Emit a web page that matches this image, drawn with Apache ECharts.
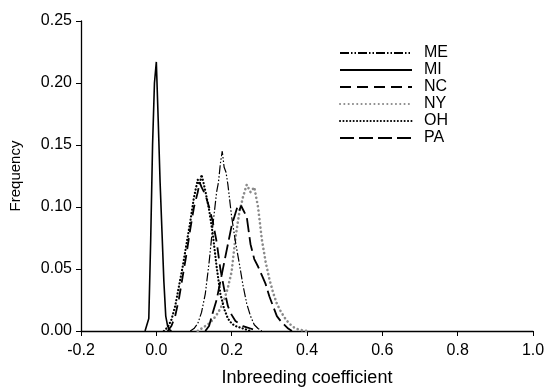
<!DOCTYPE html>
<html>
<head>
<meta charset="utf-8">
<script src="https://cdn.jsdelivr.net/npm/echarts@6/dist/echarts.min.js"></script>
<style>html,body{margin:0;padding:0;background:#fff}#c{width:545px;height:388px}</style>
</head>
<body>
<div id="c"></div>
<script>
var xTicks = [-0.2, 0.0, 0.2, 0.4, 0.6, 0.8, 1.0];
var yTicks = [0.00, 0.05, 0.10, 0.15, 0.20, 0.25];
var seriesNames = ['ME', 'MI', 'NC', 'NY', 'OH', 'PA'];

var meX = [0.09,0.10,0.11,0.12,0.13,0.14,0.15,0.16,0.165,0.17,0.175,0.18,0.185,0.19,0.20,0.21,0.22,0.23,0.24,0.25,0.26,0.27,0.28];
var meY = [0,0.002,0.006,0.015,0.03,0.055,0.085,0.112,0.12,0.135,0.145,0.132,0.128,0.118,0.092,0.072,0.055,0.037,0.022,0.012,0.005,0.002,0];

var miX = [-0.03,-0.025,-0.02,-0.015,-0.01,-0.005,0,0.005,0.01,0.015,0.02,0.025,0.03,0.035,0.04];
var miY = [0,0.001,0.01,0.073,0.15,0.2,0.217,0.17,0.12,0.08,0.04,0.012,0.004,0.001,0];

var ncX = [0.03,0.04,0.05,0.06,0.07,0.08,0.09,0.10,0.11,0.115,0.12,0.13,0.14,0.15,0.16,0.17,0.18,0.19,0.20,0.21,0.22,0.23,0.24,0.25,0.26,0.27];
var ncY = [0,0.004,0.012,0.026,0.044,0.062,0.082,0.1,0.112,0.12,0.116,0.11,0.1,0.088,0.072,0.05,0.034,0.02,0.013,0.008,0.006,0.004,0.003,0.002,0.001,0];

var nyX = [0.11,0.12,0.13,0.14,0.15,0.16,0.17,0.18,0.19,0.20,0.21,0.22,0.23,0.24,0.25,0.26,0.27,0.28,0.29,0.30,0.31,0.32,0.33,0.34,0.35,0.36,0.37,0.38,0.39,0.40];
var nyY = [0,0.002,0.004,0.006,0.009,0.013,0.018,0.025,0.035,0.048,0.075,0.095,0.108,0.118,0.112,0.116,0.1,0.074,0.056,0.042,0.031,0.022,0.016,0.011,0.007,0.004,0.002,0.001,0.0005,0];

var ohX = [0.02,0.03,0.04,0.05,0.06,0.07,0.08,0.09,0.10,0.105,0.11,0.115,0.12,0.125,0.13,0.14,0.15,0.16,0.17,0.18,0.19,0.20,0.21,0.22,0.23,0.24,0.25];
var ohY = [0,0.003,0.009,0.02,0.036,0.052,0.07,0.088,0.108,0.115,0.122,0.118,0.126,0.12,0.113,0.098,0.078,0.052,0.03,0.018,0.01,0.006,0.004,0.003,0.002,0.001,0];

var paX = [0.13,0.14,0.15,0.16,0.17,0.18,0.19,0.20,0.21,0.215,0.22,0.225,0.23,0.24,0.25,0.26,0.27,0.28,0.29,0.30,0.31,0.32,0.33,0.34,0.35,0.36];
var paY = [0,0.004,0.015,0.025,0.04,0.055,0.07,0.085,0.095,0.1,0.097,0.101,0.098,0.092,0.07,0.058,0.052,0.045,0.038,0.028,0.02,0.012,0.008,0.005,0.002,0];

function pairs(xs, ys){ return xs.map(function(x,i){ return [x, ys[i]]; }); }

var styles = {
  ME: {color:'#000', width:1.2, type:[9,2,1.5,2,1.5,2]},
  MI: {color:'#000', width:1.6, type:'solid'},
  NC: {color:'#000', width:1.8, type:[11,6]},
  NY: {color:'#8a8a8a', width:2.6, type:[0.1,4.2], cap:'round'},
  OH: {color:'#000', width:2.2, type:[0.1,3.3], cap:'round'},
  PA: {color:'#000', width:1.8, type:[14,5]}
};
var dataMap = {ME:pairs(meX,meY), MI:pairs(miX,miY), NC:pairs(ncX,ncY), NY:pairs(nyX,nyY), OH:pairs(ohX,ohY), PA:pairs(paX,paY)};

var font = 'Liberation Sans, Arial, sans-serif';
var chart = echarts.init(document.getElementById('c'), null, {renderer:'canvas'});
chart.setOption({
  animation:false,
  backgroundColor:'#fff',
  grid:{left:81, right:12, top:21, bottom:57, containLabel:false, outerBoundsMode:'none'},
  legend:{
    orient:'vertical', left:339, top:45, padding:0, itemWidth:72, itemHeight:14, itemGap:1,
    itemStyle:{opacity:0},
    textStyle:{color:'#000', fontSize:16, fontFamily:font, lineHeight:14, padding:[0,0,0,7]},
    data: seriesNames
  },
  xAxis:{
    type:'value', min:-0.2, max:1.0, interval:0.2,
    name:'Inbreeding coefficient', nameLocation:'middle', nameGap:38,
    nameTextStyle:{color:'#000', fontSize:18, fontFamily:font},
    axisLine:{onZero:false, lineStyle:{color:'#000', width:1.3}},
    axisTick:{show:true, inside:false, length:5, lineStyle:{color:'#000'}},
    axisLabel:{color:'#000', fontSize:16, fontFamily:font, margin:12, formatter:function(v){return (+v).toFixed(1);}},
    splitLine:{show:false}
  },
  yAxis:{
    type:'value', min:0, max:0.25, interval:0.05,
    name:'Frequency', nameLocation:'middle', nameGap:58,
    nameTextStyle:{color:'#000', fontSize:15, fontFamily:font},
    axisLine:{show:true, onZero:false, lineStyle:{color:'#000', width:1.3}},
    axisTick:{show:true, inside:false, length:5, lineStyle:{color:'#000'}},
    axisLabel:{color:'#000', fontSize:16, fontFamily:font, margin:9, formatter:function(v){return (+v).toFixed(2);}},
    splitLine:{show:false}
  },
  series: seriesNames.map(function(n){
    var s = styles[n];
    return {
      name:n, type:'line', data:dataMap[n], showSymbol:false, symbol:'none', smooth:false,
      lineStyle:{color:s.color, width:s.width, type:s.type, cap:s.cap||'butt'},
      itemStyle:{color:s.color},
      z: n==='NY'?1:2
    };
  })
});
</script>
</body>
</html>
